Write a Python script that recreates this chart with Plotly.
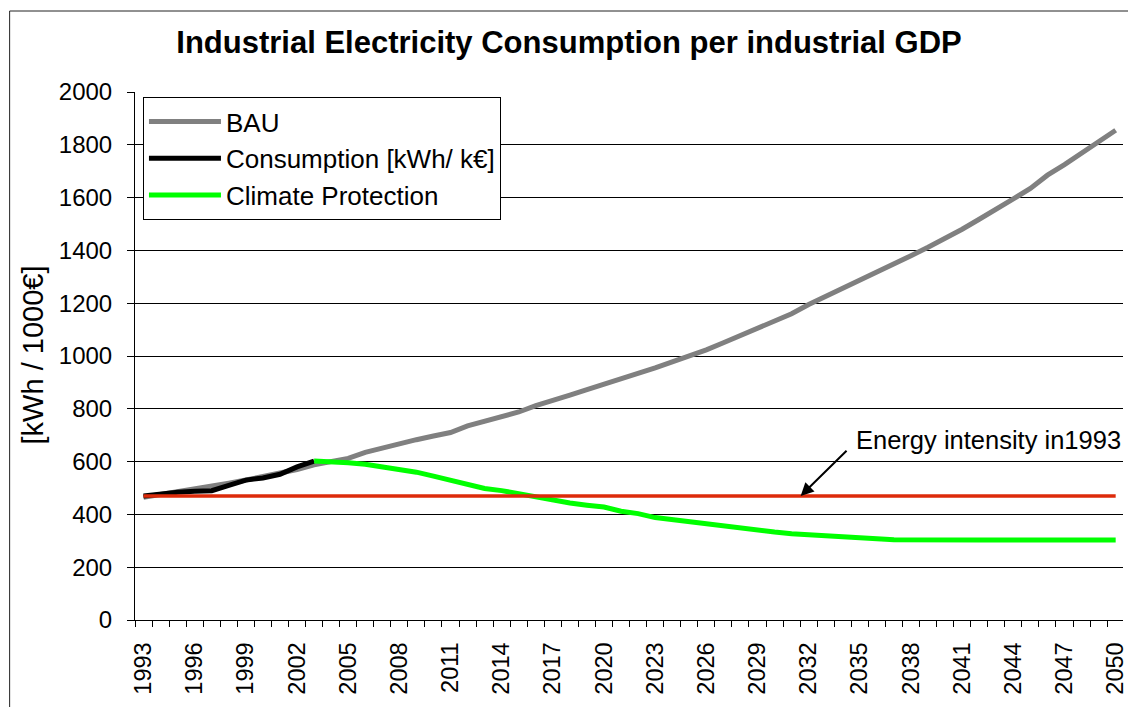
import plotly.graph_objects as go

# ---------------- data ----------------
years = list(range(1993, 2051))

bau = [465, 475, 485, 497, 507, 518, 530, 542, 555, 570,
       588, 600, 612, 635, 652, 668, 683, 697, 710, 735,
       752, 772, 788, 812, 830, 852, 873, 893, 915, 935,
       955, 978, 1000, 1023, 1050, 1078, 1105, 1130, 1160, 1195,
       1225, 1255, 1285, 1315, 1345, 1380, 1412, 1445, 1480, 1518,
       1555, 1595, 1635, 1685, 1725, 1770, 1812, 1855]

consumption_years = list(range(1993, 2004))
consumption = [470, 478, 484, 488, 490, 510, 530, 538, 552, 580, 602]

climate_years = list(range(2003, 2051))
climate = [602, 600, 596, 590, 580, 568, 560, 545, 530, 512,
           498, 490, 478, 467, 455, 443, 435, 428, 412, 403,
           388, 380, 370, 363, 355, 347, 340, 333, 327, 324,
           320, 316, 311, 308, 304,
           303, 303, 303, 303, 303, 303, 303, 303, 303, 303, 303, 303, 303]

intensity_1993 = 470
intensity_years = [1993, 2050]
intensity = [intensity_1993, intensity_1993]

tick_years = years[::3]
tick_labels = [str(y) for y in tick_years]

FONT = "Liberation Sans, Arial, sans-serif"

# ---------------- figure ----------------
fig = go.Figure()
fig.add_trace(go.Scatter(x=years, y=bau, mode="lines", name="BAU",
                         line=dict(color="#808080", width=5)))
fig.add_trace(go.Scatter(x=consumption_years, y=consumption, mode="lines",
                         name="Consumption [kWh/ k€]",
                         line=dict(color="#000000", width=5)))
fig.add_trace(go.Scatter(x=climate_years, y=climate, mode="lines",
                         name="Climate Protection",
                         line=dict(color="#00FF00", width=5)))
fig.add_trace(go.Scatter(x=intensity_years, y=intensity, mode="lines",
                         name="Energy intensity in1993", showlegend=False,
                         line=dict(color="#DD2A0A", width=3.5)))

fig.update_layout(
    width=1128, height=707,
    margin=dict(l=135, r=0, t=92, b=87),
    paper_bgcolor="white", plot_bgcolor="white",
    font=dict(family=FONT, color="black"),
    title=dict(text="<b>Industrial Electricity Consumption per industrial GDP</b>",
               font=dict(size=31, family=FONT, color="black"),
               x=569 / 1128, xref="container", xanchor="center",
               y=1 - 42 / 707, yref="container", yanchor="middle"),
    showlegend=True,
    legend=dict(x=8 / 993, y=1 - 5 / 528, xanchor="left", yanchor="top",
                bgcolor="white", bordercolor="black", borderwidth=1,
                font=dict(size=26, family=FONT, color="black"),
                itemwidth=72, tracegroupgap=0),
)

fig.update_xaxes(
    range=[1992.5, 2050.43], tickmode="array", tickvals=tick_years,
    ticktext=tick_labels, tickangle=-90, ticks="",
    tickfont=dict(size=23.5, family=FONT, color="black"),
    ticklabelstandoff=12, ticklabeloverflow="allow",
    showgrid=False, zeroline=False, mirror=False,
    showline=True, linecolor="black", linewidth=1,
    minor=dict(tick0=1992.5, dtick=1, ticks="outside", ticklen=6,
               tickcolor="black", tickwidth=1, showgrid=False),
)
fig.update_yaxes(
    range=[0, 2000], tick0=0, dtick=200,
    ticks="outside", ticklen=7, tickcolor="black", tickwidth=1,
    tickfont=dict(size=24, family=FONT, color="black"),
    ticklabelstandoff=10, mirror=False,
    showgrid=True, gridcolor="black", gridwidth=1,
    zeroline=False, showline=True, linecolor="black", linewidth=1,
)

# y-axis title
fig.add_annotation(text="[kWh / 1000€]", xref="paper", yref="paper",
                   x=(32 - 135) / 993, y=0.502, textangle=-90,
                   showarrow=False, xanchor="center", yanchor="middle",
                   font=dict(size=29, family=FONT, color="black"))

# annotation text and arrow
fig.add_annotation(text="Energy intensity in1993", xref="x", yref="y",
                   x=2034.68, y=682, xanchor="left", yanchor="middle",
                   showarrow=False,
                   font=dict(size=25.5, family=FONT, color="black"))
fig.add_annotation(text="", xref="x", yref="y", x=2031.53, y=470,
                   ax=2034.31, ay=646.6, axref="x", ayref="y",
                   showarrow=True, arrowhead=2, arrowsize=1.3,
                   arrowwidth=2, arrowcolor="black", standoff=0)

# outer chart border (only top and left edges are visible in the frame)
border_left = (9 - 135) / 993
border_top = (620 - 11) / 528
fig.add_shape(type="line", xref="paper", yref="paper",
              x0=border_left, x1=1.05, y0=border_top, y1=border_top,
              line=dict(color="#222222", width=1), layer="above")
fig.add_shape(type="line", xref="paper", yref="paper",
              x0=border_left, x1=border_left, y0=-0.3, y1=border_top,
              line=dict(color="#222222", width=1), layer="above")

fig.write_html(
    "out.html",
    config={"displayModeBar": False},
    post_script=(
        "document.body.style.margin='0px';"
        "document.body.style.overflow='hidden';"
        "document.documentElement.style.overflow='hidden';"
        "var d=document.querySelector('.plotly-graph-div');"
        "if(d){d.style.border='none';d.style.outline='none';}"
    ),
)
